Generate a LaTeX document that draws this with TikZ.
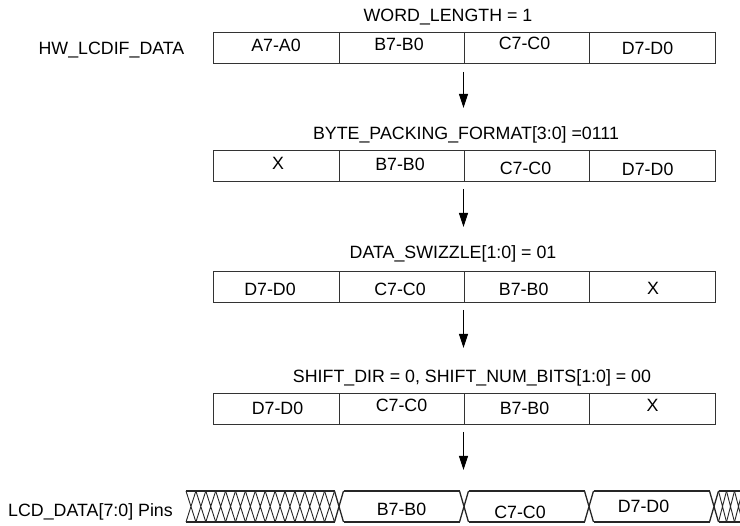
\documentclass[tikz,border=0pt]{standalone}
\usepackage{fontspec}
\setmainfont{Liberation Sans}
\usetikzlibrary{arrows.meta}
\begin{document}
\begin{tikzpicture}[x=1pt,y=-1pt,
  reg/.style={draw=black!80, line width=0.9pt, minimum width=502pt, minimum height=31pt, inner sep=0pt, anchor=north west},
  divider/.style={draw=black!80, line width=0.9pt},
  txt/.style={font=\fontsize{17.8}{20}\selectfont, inner sep=0pt, anchor=base},
  flow/.style={draw=black, line width=1pt, -{Triangle[length=14pt,width=9pt]}},
  bus/.style={line width=1.7pt, black!85},
  hatch/.style={line width=0.9pt, black!85}]
\useasboundingbox (0,0) rectangle (740,526);

% registers
\node[reg] (r1) at (213,32) {};
\node[reg] (r2) at (213,150.5) {};
\node[reg] (r3) at (213,271.5) {};
\node[reg] (r4) at (213,393.5) {};
\foreach \r in {r1,r2,r3,r4}{
  \foreach \d in {126,251,376}{
    \draw[divider] ([xshift=\d pt]\r.north west) -- ([xshift=\d pt]\r.south west);
  }
}

% labels
\node[txt] (hw) at (111.5,55) {HW\_LCDIF\_DATA};
\node[txt] (l1) at (448,22) {WORD\_LENGTH = 1};
\node[txt] (l2) at (466,140) {BYTE\_PACKING\_FORMAT[3:0] =0111};
\node[txt] (l3) at (453,259) {DATA\_SWIZZLE[1:0] = 01};
\node[txt] (l4) at (472,383) {SHIFT\_DIR = 0, SHIFT\_NUM\_BITS[1:0] = 00};
\node[txt] (pins) at (90.5,517) {LCD\_DATA[7:0] Pins};

% row 1
\node[txt] (r1a) at (276,52) {A7-A0};
\node[txt] (r1b) at (399,51) {B7-B0};
\node[txt] (r1c) at (524.5,50) {C7-C0};
\node[txt] (r1d) at (647.5,55) {D7-D0};
% row 2
\node[txt] (r2a) at (278,170) {X};
\node[txt] (r2b) at (400,171) {B7-B0};
\node[txt] (r2c) at (525.5,175) {C7-C0};
\node[txt] (r2d) at (647.7,176) {D7-D0};
% row 3
\node[txt] (r3a) at (270,296) {D7-D0};
\node[txt] (r3b) at (400,296) {C7-C0};
\node[txt] (r3c) at (523.7,296) {B7-B0};
\node[txt] (r3d) at (653,295) {X};
% row 4
\node[txt] (r4a) at (277.5,415) {D7-D0};
\node[txt] (r4b) at (401.5,412) {C7-C0};
\node[txt] (r4c) at (524.5,415) {B7-B0};
\node[txt] (r4d) at (652.6,412) {X};

% arrows
\coordinate (a1s) at (463.5,72);  \coordinate (a1e) at (463.5,108);
\coordinate (a2s) at (463.5,189); \coordinate (a2e) at (463.5,227);
\coordinate (a3s) at (463.5,310); \coordinate (a3e) at (463.5,348);
\coordinate (a4s) at (463.5,432); \coordinate (a4e) at (463.5,470);
\draw[flow] (a1s) -- (a1e);
\draw[flow] (a2s) -- (a2e);
\draw[flow] (a3s) -- (a3e);
\draw[flow] (a4s) -- (a4e);

% waveform
\begin{scope}
\clip (0,0) rectangle (740,526);
% left hatch
\draw[bus] (186,491) -- (334.5,491) (186,522) -- (334.5,522);
\foreach \i in {0,...,14}{
  \pgfmathsetmacro{\xa}{186+\i*9.9}
  \pgfmathsetmacro{\xb}{186+(\i+1)*9.9}
  \draw[hatch] (\xa,491) -- (\xb,522) (\xa,522) -- (\xb,491);
}
% transitions
\foreach \t in {339,464,589,714}{
  \draw[line width=1.3pt, black!85] (\t-4.5,491) -- (\t+4.5,522) (\t-4.5,522) -- (\t+4.5,491);
}
% data segments
\foreach \a/\b in {339/464,464/589,589/714}{
  \draw[bus] (\a+4.5,491) -- (\b-4.5,491) (\a+4.5,522) -- (\b-4.5,522);
}
% right hatch
\draw[bus] (718.5,491) -- (741,491) (718.5,522) -- (741,522);
\foreach \i in {0,1,2}{
  \pgfmathsetmacro{\xa}{718.5+\i*8}
  \pgfmathsetmacro{\xb}{718.5+(\i+1)*8}
  \draw[hatch] (\xa,491) -- (\xb,522) (\xa,522) -- (\xb,491);
}
\end{scope}
\node[txt] (wb) at (401.5,516) {B7-B0};
\node[txt] (wc) at (520,519) {C7-C0};
\node[txt] (wd) at (643.5,513) {D7-D0};
\end{tikzpicture}
\end{document}
